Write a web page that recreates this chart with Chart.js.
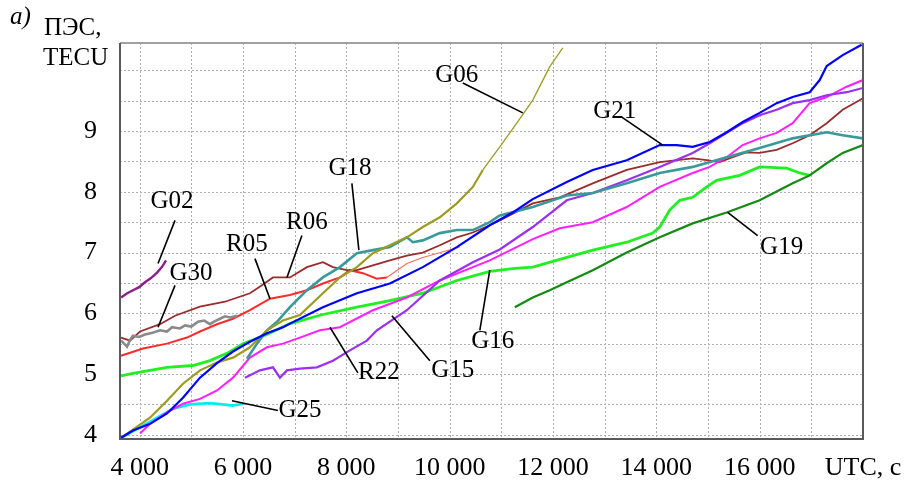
<!DOCTYPE html>
<html>
<head>
<meta charset="utf-8">
<script src="https://cdn.jsdelivr.net/npm/chart.js@4/dist/chart.umd.min.js"></script>
<style>
  html, body { margin: 0; padding: 0; background: #fff; }
  #wrap { width: 906px; height: 483px; }
</style>
</head>
<body>
<div id="wrap"><canvas id="tecChart"></canvas></div>
<script>
// values: [UTC seconds, TEC units]
const g02 = [[3640,6.26],[3760,6.33],[3872,6.38],[3990,6.43],[4104,6.51],[4220,6.58],[4337,6.67],[4430,6.76],[4511,6.87]];
const g30 = [[3640,5.55],[3700,5.50],[3756,5.45],[3814,5.56],[3872,5.63],[3990,5.61],[4104,5.65],[4250,5.68],[4395,5.72],[4530,5.70],[4627,5.77],[4780,5.75],[4878,5.80],[5000,5.78],[5130,5.86],[5250,5.88],[5362,5.82],[5458,5.87],[5555,5.91],[5652,5.95],[5749,5.93],[5884,5.96]];
const r06 = [[3640,5.60],[3814,5.55],[4008,5.70],[4395,5.82],[4685,5.96],[5168,6.11],[5652,6.19],[6135,6.33],[6367,6.46],[6580,6.59],[6909,6.59],[7238,6.76],[7547,6.84],[7741,6.76],[8011,6.71],[8205,6.71],[8514,6.79],[8843,6.87],[9172,6.95],[9481,7.00],[9810,7.12],[10139,7.25],[10449,7.33],[10777,7.45],[10970,7.53],[11609,7.81],[12132,7.91],[12770,8.14],[13428,8.36],[14066,8.49],[14704,8.55],[14975,8.52],[15226,8.49],[15478,8.57],[15740,8.65],[16000,8.64],[16329,8.69],[16639,8.80],[16968,8.93],[17297,9.13],[17607,9.35],[18000,9.54]];
const r05 = [[3640,5.30],[4066,5.42],[4530,5.50],[4917,5.60],[5168,5.70],[5497,5.82],[5807,5.91],[6135,6.05],[6522,6.24],[6909,6.30],[7238,6.38],[7547,6.49],[7876,6.59],[8069,6.71],[8321,6.66],[8592,6.57],[8785,6.59],[9172,6.82],[9481,6.92],[10197,7.09]];
const g16 = [[3640,4.97],[3872,5.01],[4530,5.11],[5033,5.14],[5362,5.22],[5690,5.34],[6000,5.50],[6464,5.65],[6909,5.83],[7547,5.98],[8205,6.10],[8843,6.21],[9481,6.33],[10139,6.54],[10777,6.69],[11261,6.74],[11609,6.76],[12267,6.92],[12770,7.04],[13428,7.17],[13930,7.32],[14066,7.42],[14259,7.70],[14453,7.86],[14704,7.91],[14975,8.08],[15168,8.19],[15613,8.27],[16000,8.41],[16523,8.39],[16774,8.31],[16968,8.27]];
const g21 = [[3640,3.95],[3872,4.07],[4201,4.18],[4530,4.35],[4839,4.61],[5168,4.94],[5497,5.18],[5807,5.37],[6135,5.53],[6464,5.67],[6774,5.77],[6909,5.83],[7547,6.10],[8205,6.33],[8843,6.49],[9481,6.76],[10139,7.09],[10777,7.45],[11261,7.68],[11609,7.88],[12267,8.16],[12770,8.36],[13428,8.52],[14066,8.77],[14395,8.77],[14704,8.74],[15033,8.82],[15362,8.98],[15671,9.15],[16000,9.30],[16329,9.46],[16639,9.56],[16968,9.64],[17162,9.84],[17297,10.07],[17607,10.25],[17974,10.42]];
const g06 = [[3640,3.95],[4201,4.28],[4530,4.56],[4839,4.84],[5168,5.06],[5497,5.19],[5807,5.27],[6135,5.44],[6464,5.72],[6774,5.88],[7102,5.97],[7547,6.33],[7876,6.59],[8205,6.76],[8514,6.99],[8843,7.12],[9172,7.25],[9481,7.42],[9810,7.58],[10139,7.81],[10449,8.08],[10642,8.36],[10970,8.74],[11299,9.13],[11609,9.51],[11938,10.06],[12190,10.37]];
const g18 = [[6077,5.25],[6271,5.50],[6464,5.72],[6658,5.86],[6909,6.10],[7238,6.38],[7547,6.59],[7876,6.76],[8205,6.99],[8514,7.04],[8843,7.09],[9172,7.25],[9288,7.17],[9481,7.20],[9810,7.32],[10139,7.37],[10449,7.37],[10777,7.50],[10970,7.61],[11609,7.75],[12267,7.94],[12770,7.98],[13428,8.14],[14066,8.31],[14704,8.41],[15362,8.57],[16000,8.72],[16639,8.88],[17297,8.98],[17607,8.93],[18000,8.88]];
const r22 = [[4008,4.02],[4201,4.18],[4530,4.37],[4839,4.51],[5168,4.59],[5497,4.73],[5807,4.94],[6135,5.27],[6464,5.44],[6774,5.50],[7102,5.60],[7489,5.72],[7876,5.77],[8514,6.05],[9172,6.26],[9810,6.54],[10449,6.76],[10777,6.87],[11609,7.22],[12132,7.40],[12770,7.50],[13428,7.75],[14066,8.08],[14704,8.31],[15033,8.41],[15362,8.57],[15671,8.77],[16000,8.88],[16329,8.97],[16639,9.13],[16968,9.46],[17297,9.56],[17684,9.73],[18000,9.84]];
const g15 = [[6039,4.94],[6329,5.06],[6580,5.11],[6716,4.94],[6851,5.06],[7102,5.09],[7431,5.11],[7741,5.22],[8069,5.39],[8398,5.55],[8592,5.72],[9172,6.05],[9810,6.54],[10449,6.84],[10970,7.05],[11609,7.42],[12267,7.86],[12770,7.98],[13428,8.19],[14066,8.41],[14704,8.64],[15033,8.80],[15362,8.97],[15671,9.13],[16000,9.26],[16329,9.35],[16639,9.46],[16968,9.51],[17297,9.59],[17684,9.64],[18000,9.71]];
const g25 = [[3640,3.95],[4008,4.12],[4337,4.28],[4646,4.43],[4975,4.50],[5362,4.52],[5600,4.50],[5807,4.48],[6000,4.51]];
const g19 = [[11261,6.10],[11609,6.26],[11938,6.38],[12267,6.51],[12770,6.71],[13428,7.00],[14066,7.25],[14704,7.48],[15362,7.66],[16000,7.86],[16639,8.14],[16968,8.27],[17297,8.47],[17607,8.64],[18000,8.77]];

const xTicks = [4000,5000,6000,7000,8000,9000,10000,11000,12000,13000,14000,15000,16000,17000,18000];
const yTicks = [4,4.5,5,5.5,6,6.5,7,7.5,8,8.5,9,9.5,10];

// satellite labels: text centre, pointer start, pointer end (data units)
const callouts = [
  { text: 'G02', at: [4627, 7.845], from: [4685, 7.53], to: [4356, 6.82] },
  { text: 'G30', at: [4994, 6.657], from: [4685, 6.46], to: [4356, 5.77] },
  { text: 'R05', at: [6077, 7.135], from: [6232, 6.90], to: [6522, 6.24] },
  { text: 'R06', at: [7238, 7.50], from: [7141, 7.28], to: [6851, 6.59] },
  { text: 'G18', at: [8070, 8.39], from: [8108, 8.14], to: [8243, 7.04] },
  { text: 'G06', at: [10139, 9.92], from: [10255, 9.79], to: [11416, 9.30] },
  { text: 'G21', at: [13195, 9.33], from: [13331, 9.23], to: [14124, 8.77] },
  { text: 'G19', at: [16425, 7.09], from: [15381, 7.66], to: [15961, 7.28] },
  { text: 'G16', at: [10835, 5.535], from: [10777, 6.71], to: [10584, 5.72] },
  { text: 'G15', at: [10061, 5.06], from: [8882, 5.96], to: [9617, 5.22] },
  { text: 'R22', at: [8630, 5.02], from: [7683, 5.77], to: [8224, 5.02] },
  { text: 'G25', at: [7102, 4.40], from: [5787, 4.56], to: [6677, 4.40] }
];

const SERIF = "'Liberation Serif', 'DejaVu Serif', 'Times New Roman', serif";

function pts(arr) {
  return arr.map(p => ({ x: p[0], y: p[1] }));
}

function ds(label, arr, color, width, extra) {
  return Object.assign({
    label: label,
    data: pts(arr),
    borderColor: color,
    borderWidth: width,
    pointRadius: 0,
    tension: 0,
    fill: false
  }, extra || {});
}

// dotted grid, drawn under the lines
const gridPlugin = {
  id: 'dotgrid',
  beforeDatasetsDraw(chart) {
    const { ctx, chartArea: a, scales } = chart;
    ctx.save();
    ctx.strokeStyle = '#b0b0b0';
    ctx.lineWidth = 1;
    ctx.setLineDash([2, 2]);
    scales.x.ticks.forEach(t => {
      const x = Math.round(scales.x.getPixelForValue(t.value)) + 0.5;
      ctx.beginPath();
      ctx.moveTo(x, a.top);
      ctx.lineTo(x, a.bottom);
      ctx.stroke();
    });
    scales.y.ticks.forEach(t => {
      const y = Math.round(scales.y.getPixelForValue(t.value)) + 0.5;
      ctx.beginPath();
      ctx.moveTo(a.left, y);
      ctx.lineTo(a.right, y);
      ctx.stroke();
    });
    ctx.restore();
  }
};

const framePlugin = {
  id: 'frame',
  afterDatasetsDraw(chart) {
    const { ctx, chartArea: a, scales } = chart;
    const xs = scales.x, ys = scales.y;

    // frame
    ctx.save();
    ctx.lineWidth = 2;
    ctx.strokeStyle = '#a0a0a0';
    ctx.beginPath();
    ctx.moveTo(a.left, a.top);
    ctx.lineTo(a.right, a.top);
    ctx.stroke();
    ctx.strokeStyle = '#5a5a5a';
    ctx.beginPath();
    ctx.moveTo(a.left, a.top);
    ctx.lineTo(a.left, a.bottom);
    ctx.lineTo(a.right, a.bottom);
    ctx.lineTo(a.right, a.top);
    ctx.stroke();
    ctx.restore();

    // callouts
    ctx.save();
    ctx.strokeStyle = '#000';
    ctx.lineWidth = 1.6;
    ctx.fillStyle = '#000';
    ctx.font = '25px ' + SERIF;
    ctx.textAlign = 'center';
    ctx.textBaseline = 'middle';
    callouts.forEach(c => {
      ctx.beginPath();
      ctx.moveTo(xs.getPixelForValue(c.from[0]), ys.getPixelForValue(c.from[1]));
      ctx.lineTo(xs.getPixelForValue(c.to[0]), ys.getPixelForValue(c.to[1]));
      ctx.stroke();
      ctx.fillText(c.text, xs.getPixelForValue(c.at[0]), ys.getPixelForValue(c.at[1]));
    });
    ctx.restore();

    // axis title and panel letter
    ctx.save();
    ctx.fillStyle = '#000';
    ctx.textAlign = 'left';
    ctx.textBaseline = 'alphabetic';
    ctx.font = '25px ' + SERIF;
    ctx.fillText('ПЭС,', 44, 35);
    ctx.fillText('TECU', 43, 65);
    ctx.font = 'italic 25px ' + SERIF;
    ctx.fillText('a)', 10, 24);
    ctx.restore();
  }
};

function draw() {
  new Chart(document.getElementById('tecChart'), {
    type: 'line',
    data: {
      datasets: [
        ds('G21', g21, '#0000ff', 2.2),
        ds('G19', g19, '#148a14', 2.2),
        ds('G06', g06, '#9c9c22', 2.2, {
          segment: { borderWidth: s => s.p0.parsed.x >= 10600 ? 1.3 : 2.2 }
        }),
        ds('G18', g18, '#3a9a9a', 2.6),
        ds('G15', g15, '#9b30f0', 2.2),
        ds('R22', r22, '#ff20ff', 2),
        ds('G16', g16, '#1ff01f', 2.8),
        ds('G02', g02, '#8e1e8e', 2.4),
        ds('G30', g30, '#8a8a8a', 2.6),
        ds('R06', r06, '#9a2c2c', 1.8),
        ds('R05', r05, '#ff2b2b', 2, {
          segment: {
            borderWidth: s => s.p0.parsed.x >= 8785 ? 1.1 : 2,
            borderColor: s => s.p0.parsed.x >= 8785 ? '#ff6a5a' : '#ff2b2b'
          }
        }),
        ds('G25', g25, '#00eef0', 2.6)
      ]
    },
    options: {
      responsive: true,
      maintainAspectRatio: false,
      animation: false,
      layout: { padding: { top: 43, right: 43, left: 0, bottom: 0 } },
      plugins: {
        legend: { display: false },
        tooltip: { enabled: false }
      },
      scales: {
        x: {
          type: 'linear',
          min: 3620,
          max: 18000,
          afterBuildTicks: s => { s.ticks = xTicks.map(v => ({ value: v })); },
          afterFit: s => { s.height = 44; s.paddingLeft = 0; s.paddingRight = 0; },
          grid: { display: false },
          border: { display: false },
          ticks: {
            autoSkip: false,
            maxRotation: 0,
            padding: 6,
            color: '#000',
            font: { family: SERIF, size: 26 },
            callback: v => {
              if (v === 18000) return 'UTC, c';
              if ((v / 1000) % 2 === 0) return (v / 1000) + ' 000';
              return '';
            }
          }
        },
        y: {
          type: 'linear',
          min: 3.93,
          max: 10.45,
          afterBuildTicks: s => { s.ticks = yTicks.map(v => ({ value: v })); },
          afterFit: s => { s.width = 120; s.paddingTop = 0; s.paddingBottom = 0; },
          grid: { display: false },
          border: { display: false },
          ticks: {
            autoSkip: false,
            padding: 15,
            color: '#000',
            font: { family: SERIF, size: 26 },
            callback: v => (Number.isInteger(v) && v <= 9) ? String(v) : ''
          }
        }
      }
    },
    plugins: [gridPlugin, framePlugin]
  });
}

if (document.fonts && document.fonts.load) {
  Promise.all([
    document.fonts.load('26px "Liberation Serif"'),
    document.fonts.load('italic 25px "Liberation Serif"')
  ]).then(draw, draw);
} else {
  draw();
}
</script>
</body>
</html>
